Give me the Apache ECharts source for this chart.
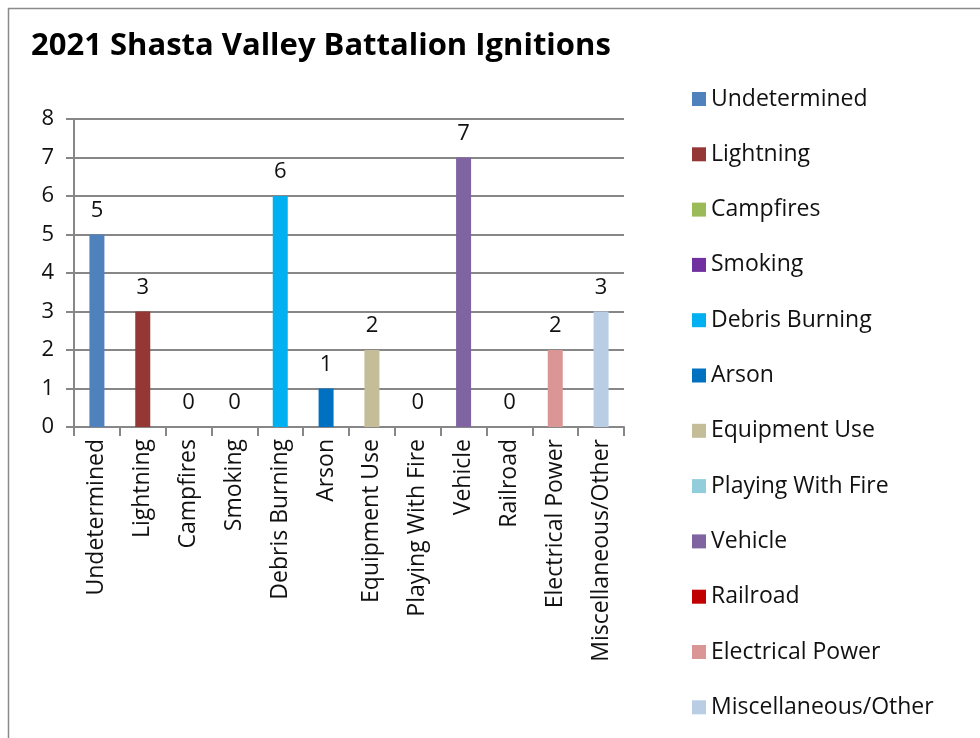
<!DOCTYPE html>
<html>
<head>
<meta charset="utf-8">
<script src="https://cdn.jsdelivr.net/npm/echarts@6/dist/echarts.min.js"></script>
<style>
  html, body { margin: 0; padding: 0; background: #fff; }
  #main { width: 980px; height: 738px; }
</style>
</head>
<body>
<div id="main"></div>
<script>
var chart = echarts.init(document.getElementById('main'));

// categorias y valores
var causas = ['Undetermined', 'Lightning', 'Campfires', 'Smoking', 'Debris Burning', 'Arson',
  'Equipment Use', 'Playing With Fire', 'Vehicle', 'Railroad', 'Electrical Power', 'Miscellaneous/Other'];
var igniciones = [5, 3, 0, 0, 6, 1, 2, 0, 7, 0, 2, 3];
var colores = ['#4F81BD', '#953735', '#9BBB59', '#7030A0', '#00B0F0', '#0070C0',
  '#C4BD97', '#92CDDC', '#8064A2', '#C00000', '#D99694', '#B9CDE5'];
var ticksY = [0, 1, 2, 3, 4, 5, 6, 7, 8];

var fuente = 'Open Sans';

// una serie por causa, para que la leyenda muestre cada una
var series = causas.map(function (nombre, i) {
  var datos = causas.map(function (c, j) { return j === i ? igniciones[i] : '-'; });
  return {
    name: nombre,
    type: 'bar',
    stack: 'total',
    barWidth: 15,
    data: datos,
    itemStyle: { color: colores[i] },
    label: {
      show: true,
      position: 'top',
      distance: 13,
      fontSize: 22,
      fontFamily: fuente,
      color: '#111'
    }
  };
});

var option = {
  animation: false,
  backgroundColor: '#fff',
  textStyle: { fontFamily: fuente },
  title: {
    text: '2021 Shasta Valley Battalion Ignitions',
    left: 26,
    top: 26,
    textStyle: { fontSize: 31, fontWeight: 'bold', color: '#000', fontFamily: fuente }
  },
  graphic: [{
    type: 'rect',
    shape: { x: 8.5, y: 8.5, width: 1200, height: 1200 },
    style: { fill: null, stroke: '#8a8a8a', lineWidth: 1.5 },
    silent: true
  }],
  legend: {
    orient: 'vertical',
    left: 687,
    top: 82,
    icon: 'rect',
    itemWidth: 14,
    itemHeight: 14,
    itemGap: 31.3,
    textStyle: { fontSize: 23, color: '#111', lineHeight: 24, fontFamily: fuente },
    data: causas
  },
  grid: { left: 74, right: 356, top: 119, bottom: 311 },
  xAxis: {
    type: 'category',
    data: causas,
    axisLine: { lineStyle: { color: '#878787', width: 2 } },
    axisTick: { show: true, length: 9, lineStyle: { color: '#878787', width: 2 } },
    axisLabel: { rotate: 90, fontSize: 23, color: '#111', margin: 12, interval: 0, fontFamily: fuente }
  },
  yAxis: {
    type: 'value',
    min: ticksY[0],
    max: ticksY[ticksY.length - 1],
    interval: 1,
    axisLine: { show: true, lineStyle: { color: '#878787', width: 2 } },
    axisTick: { show: true, length: 8, lineStyle: { color: '#878787', width: 2 } },
    axisLabel: { fontSize: 22, color: '#111', margin: 20, fontFamily: fuente },
    splitLine: { show: true, lineStyle: { color: '#878787', width: 2 } }
  },
  series: series
};

chart.setOption(option);
</script>
</body>
</html>
